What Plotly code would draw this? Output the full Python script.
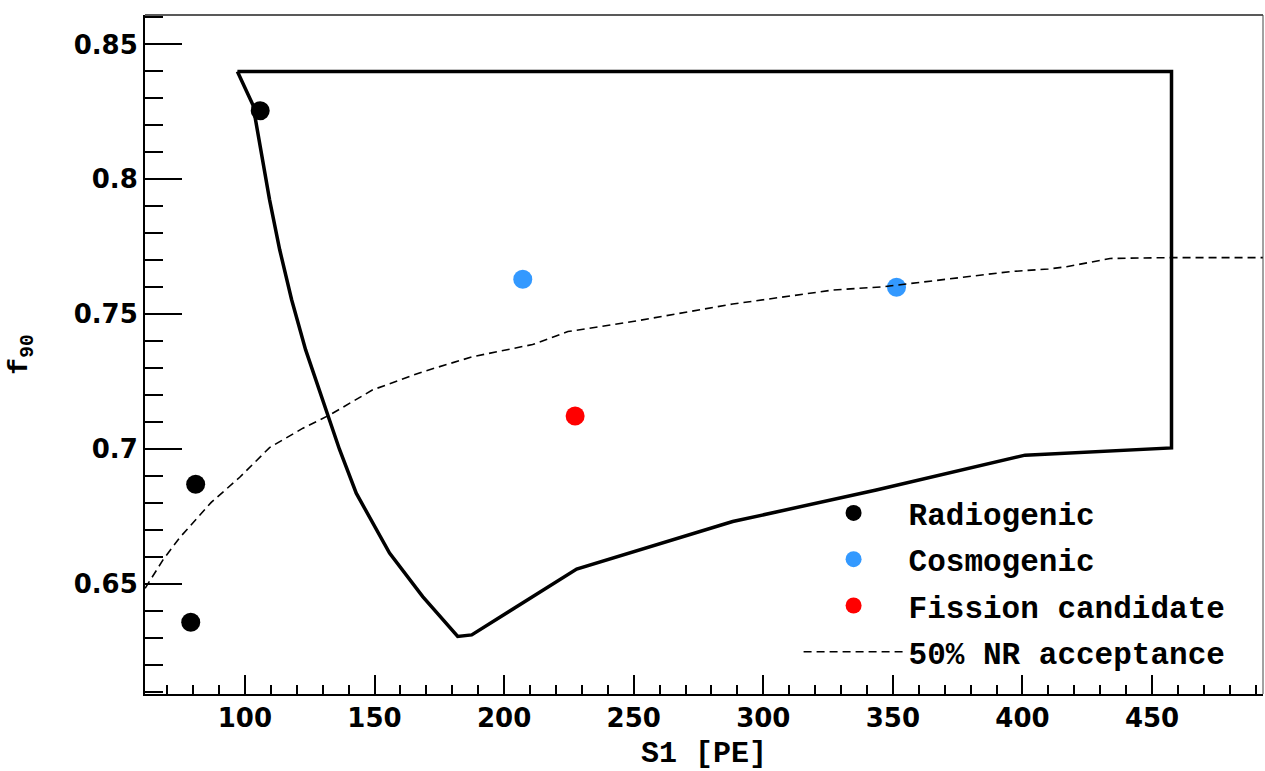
import plotly.graph_objects as go

# ---------------- data ----------------
# Selection region (closed contour)
cut_s1 = [97.1, 457.5, 457.5, 401.0, 343.6, 288.2, 228.0, 187.5, 182.1,
          168.6, 155.8, 142.95, 136.5, 130.0, 123.4, 118.0, 113.4, 109.5, 106.05, 103.1, 97.1]
cut_f90 = [0.840, 0.840, 0.7005, 0.6978, 0.6849, 0.6732, 0.6556, 0.6312, 0.6306,
           0.6454, 0.6615, 0.6837, 0.6999, 0.7184, 0.7369, 0.7555, 0.7740, 0.7925, 0.8109, 0.8275, 0.840]

# 50% NR acceptance curve
acc_s1 = [61.5, 68.4, 74.8, 87.0, 98.0, 109.5, 122.4, 132.7, 149.3, 168.6,
          187.9, 199.5, 211.0, 224.6, 249.6, 288.2, 327.0, 346.3, 395.1, 410.0,
          417.0, 433.8, 457.5, 495.0]
acc_f90 = [0.6485, 0.6590, 0.6672, 0.6803, 0.6896, 0.7006, 0.7078, 0.7127, 0.7220, 0.7287,
           0.7343, 0.7365, 0.7388, 0.7436, 0.7473, 0.7538, 0.7590, 0.7602, 0.7658, 0.7668,
           0.7676, 0.7707, 0.7710, 0.7710]

# Events
radio_s1 = [105.9, 81.0, 79.1]
radio_f90 = [0.8254, 0.6870, 0.6359]
cosmo_s1 = [207.2, 351.4]
cosmo_f90 = [0.7630, 0.7600]
fission_s1 = [227.4]
fission_f90 = [0.7123]

legend_names = ["Radiogenic", "Cosmogenic", "Fission candidate", "50% NR acceptance"]

x_range = [61.45, 492.8]
y_range = [0.6093, 0.8609]

# ---------------- figure ----------------
fig = go.Figure()

fig.add_trace(go.Scatter(x=cut_s1, y=cut_f90, mode="lines",
                         line=dict(color="black", width=3.5),
                         showlegend=False, hoverinfo="skip"))

fig.add_trace(go.Scatter(x=radio_s1, y=radio_f90, mode="markers", name=legend_names[0],
                         legendgroup="a",
                         marker=dict(color="black", size=19)))
fig.add_trace(go.Scatter(x=cosmo_s1, y=cosmo_f90, mode="markers", name=legend_names[1],
                         legendgroup="b",
                         marker=dict(color="#3399ff", size=19)))
fig.add_trace(go.Scatter(x=fission_s1, y=fission_f90, mode="markers", name=legend_names[2],
                         legendgroup="c",
                         marker=dict(color="#ff0000", size=19)))
fig.add_trace(go.Scatter(x=acc_s1, y=acc_f90, mode="lines", name=legend_names[3],
                         legendgroup="d",
                         line=dict(color="black", width=1.6, dash="8px,5px")))

tickfont = dict(family="DejaVu Sans", size=26, color="black", weight="bold")
titlefont = dict(family="Liberation Mono", size=30, color="black", weight="bold")

fig.update_layout(
    width=1265, height=771,
    margin=dict(l=145, r=2, t=15, b=77),
    paper_bgcolor="white", plot_bgcolor="white",
    showlegend=True,
    legend=dict(x=0.5846, y=0.306, xanchor="left", yanchor="top",
                bgcolor="rgba(0,0,0,0)", borderwidth=0,
                font=dict(family="Liberation Mono", size=31, color="black", weight="bold"),
                itemwidth=100, tracegroupgap=3),
    xaxis=dict(range=x_range, showgrid=False, zeroline=False,
               showline=True, linecolor="black", linewidth=2,
               ticks="inside", ticklen=19, tickwidth=2, tickcolor="black",
               tick0=0, dtick=50, tickfont=tickfont,
               minor=dict(dtick=10, ticks="inside", ticklen=9, tickwidth=1.5, tickcolor="black"),
               title=dict(text="S1 [PE]", font=titlefont, standoff=14)),
    yaxis=dict(range=y_range, showgrid=False, zeroline=False,
               showline=True, linecolor="black", linewidth=2,
               ticks="inside", ticklen=37, tickwidth=2, tickcolor="black",
               tick0=0, dtick=0.05, tickformat=".2~f", tickfont=tickfont,
               minor=dict(dtick=0.01, ticks="inside", ticklen=18, tickwidth=1.5, tickcolor="black"),
               title=dict(text="f<sub>90</sub>", font=dict(family="Liberation Mono", size=28,
                                                          color="black", weight="bold"),
                          standoff=38)),
    shapes=[
        dict(type="line", xref="paper", yref="paper", x0=0, x1=1, y0=1, y1=1,
             line=dict(color="#222222", width=1.3)),
        dict(type="line", xref="paper", yref="paper", x0=1, x1=1, y0=0, y1=1,
             line=dict(color="#444444", width=1)),
    ],
)

fig.write_html("out.html")
